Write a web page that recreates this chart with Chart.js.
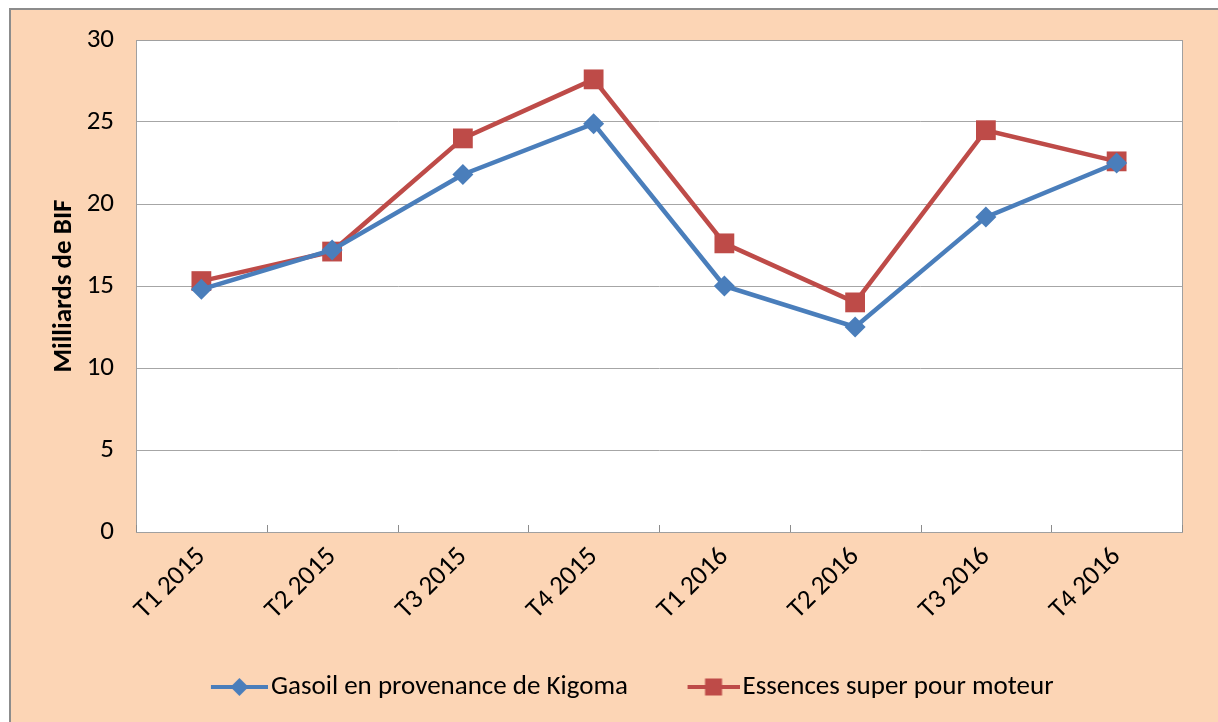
<!DOCTYPE html>
<html>
<head>
<meta charset="UTF-8">
<title>Gasoil et essences</title>
<script src="https://cdn.jsdelivr.net/npm/chart.js@4.4.1/dist/chart.umd.min.js"></script>
<style>
  body { margin: 0; background: #fff; width: 1218px; height: 722px; overflow: hidden; position: relative; }
  #frame { position: absolute; left: 9px; top: 8px; right: 0; bottom: 0; background: #FCD5B5;
           border-left: 2px solid #8c8c8c; border-top: 2px solid #8c8c8c; }
  #wrap { position: absolute; left: 0; top: 0; width: 1218px; height: 722px; }
</style>
</head>
<body>
<div id="frame"></div>
<div id="wrap"><canvas id="myChart" width="1218" height="722"></canvas></div>
<script>
    var labels = ['T1 2015', 'T2 2015', 'T3 2015', 'T4 2015', 'T1 2016', 'T2 2016', 'T3 2016', 'T4 2016'];
    var gasoil = [14.8, 17.2, 21.8, 24.9, 15.0, 12.5, 19.2, 22.5];
    var essences = [15.3, 17.1, 24.0, 27.6, 17.6, 14.0, 24.5, 22.6];
    var seriesNames = ['Gasoil en provenance de Kigoma', 'Essences super pour moteur'];
    var yMin = 0, yMax = 30, yStep = 5;

    var BLUE = '#4A7EBB';
    var RED = '#BE4B48';
    var FONT = "Carlito, Lato, 'Noto Sans', sans-serif";

    // little line + marker pictures for the legend
    function legendIcon(color, shape, lineLen) {
        var w = 102, h = 24;
        var c = document.createElement('canvas');
        c.width = w; c.height = h;
        var g = c.getContext('2d');
        g.strokeStyle = color;
        g.lineWidth = 4;
        g.beginPath();
        g.moveTo(w - lineLen, h / 2);
        g.lineTo(w, h / 2);
        g.stroke();
        g.fillStyle = color;
        var cx = w - lineLen / 2, cy = h / 2;
        if (shape === 'diamond') {
            g.beginPath();
            g.moveTo(cx, cy - 9); g.lineTo(cx + 9, cy); g.lineTo(cx, cy + 9); g.lineTo(cx - 9, cy);
            g.closePath();
            g.fill();
        } else {
            g.fillRect(cx - 8.5, cy - 8.5, 17, 17);
        }
        return c;
    }
    var icons = [legendIcon(BLUE, 'diamond', 57), legendIcon(RED, 'square', 52)];

    // white plot area, its border and small inner tick marks on the category axis
    var plotFrame = {
        id: 'plotFrame',
        beforeDraw: function (chart) {
            var a = chart.chartArea, ctx = chart.ctx;
            ctx.save();
            ctx.fillStyle = '#fff';
            ctx.fillRect(a.left, a.top, a.right - a.left, a.bottom - a.top);
            ctx.restore();
        },
        beforeDatasetsDraw: function (chart) {
            var a = chart.chartArea, ctx = chart.ctx, x = chart.scales.x;
            ctx.save();
            ctx.strokeStyle = '#a0a0a0';
            ctx.lineWidth = 1;
            ctx.strokeRect(a.left + 0.5, a.top + 0.5, a.right - a.left, a.bottom - a.top);
            ctx.strokeStyle = '#8c8c8c';
            ctx.beginPath();
            for (var i = 0; i <= labels.length; i++) {
                var px = Math.round(x.getPixelForValue(i - 0.5)) + 0.5;
                ctx.moveTo(px, a.bottom);
                ctx.lineTo(px, a.bottom - 7);
            }
            ctx.stroke();
            ctx.restore();
        }
    };

    var ctx = document.getElementById('myChart').getContext('2d');
    var myChart = new Chart(ctx, {
        type: 'line',
        data: {
            labels: labels,
            datasets: [
                {
                    label: seriesNames[0],
                    data: gasoil,
                    borderColor: BLUE,
                    backgroundColor: BLUE,
                    borderWidth: 4.5,
                    pointStyle: 'rectRot',
                    pointRadius: 10.5,
                    pointBorderWidth: 0,
                    tension: 0,
                    clip: false
                },
                {
                    label: seriesNames[1],
                    data: essences,
                    borderColor: RED,
                    backgroundColor: RED,
                    borderWidth: 4.5,
                    pointStyle: 'rect',
                    pointRadius: 14,
                    pointBorderWidth: 0,
                    tension: 0,
                    clip: false
                }
            ]
        },
        options: {
            responsive: false,
            animation: false,
            layout: { padding: { top: 40, right: 36, left: 48, bottom: 11.5 } },
            plugins: {
                tooltip: { enabled: false },
                legend: {
                    position: 'bottom',
                    labels: {
                        usePointStyle: true,
                        pointStyleWidth: 81,
                        padding: 20,
                        color: '#000',
                        font: { family: FONT, size: 27 },
                        generateLabels: function (chart) {
                            return chart.data.datasets.map(function (ds, i) {
                                return {
                                    text: ds.label,
                                    pointStyle: icons[i],
                                    datasetIndex: i,
                                    hidden: false,
                                    fillStyle: ds.borderColor,
                                    strokeStyle: ds.borderColor,
                                    lineWidth: 0,
                                    fontColor: '#000'
                                };
                            });
                        }
                    }
                }
            },
            scales: {
                x: {
                    offset: true,
                    grid: { display: true, drawOnChartArea: false, drawTicks: false, color: '#8c8c8c' },
                    border: { display: true, color: '#8c8c8c', width: 1 },
                    ticks: {
                        color: '#000',
                        font: { family: FONT, size: 27 },
                        minRotation: 45,
                        maxRotation: 45,
                        padding: 9
                    },
                    afterFit: function (s) { s.height = 121.5; }
                },
                y: {
                    min: yMin,
                    max: yMax,
                    grid: { color: '#a6a6a6', lineWidth: 1, drawTicks: false },
                    border: { display: true, color: '#8c8c8c', width: 1 },
                    ticks: {
                        stepSize: yStep,
                        color: '#000',
                        padding: 22,
                        font: { family: FONT, size: 27 }
                    },
                    title: {
                        display: true,
                        text: 'Milliards de BIF',
                        color: '#000',
                        padding: 0,
                        font: { family: FONT, size: 27, weight: 'bold' }
                    },
                    afterFit: function (s) { s.width = 88; }
                }
            }
        },
        plugins: [plotFrame]
    });
</script>
</body>
</html>
